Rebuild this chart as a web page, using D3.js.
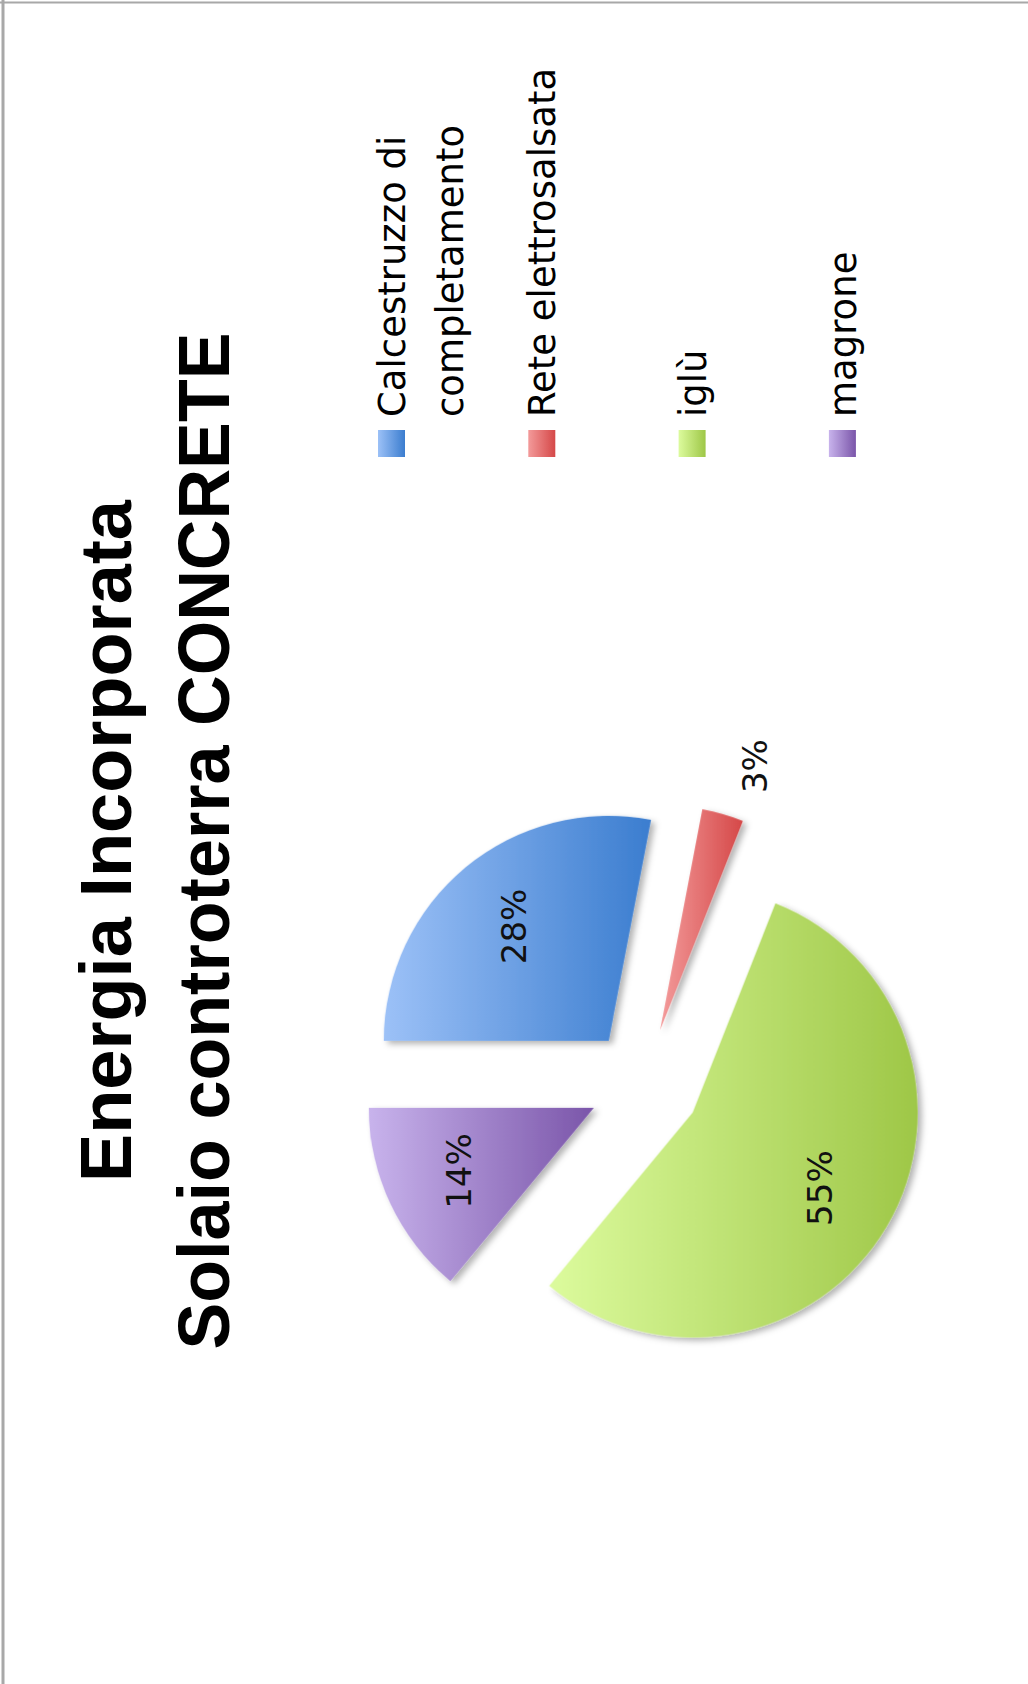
<!DOCTYPE html>
<html>
<head>
<meta charset="utf-8">
<script src="https://cdn.jsdelivr.net/npm/d3@7"></script>
<style>
  html, body { margin: 0; padding: 0; background: #ffffff; }
  svg { display: block; }
</style>
</head>
<body>
<div id="chart"></div>
<script>
// ---- data ----
const titleLines = ["Energia Incorporata", "Solaio controterra CONCRETE"];
const categories = ["Calcestruzzo di completamento", "Rete elettrosalsata", "iglù", "magrone"];
const legendLines = [["Calcestruzzo di", "completamento"], ["Rete elettrosalsata"], ["iglù"], ["magrone"]];
const values = [28, 3, 55, 14];
const colorsLight = ["#9cc1f7", "#f39a9a", "#dcfb9d", "#c8b3ec"];
const colorsDark  = ["#3b7dcf", "#d54848", "#9ec747", "#7a55a9"];

// ---- layout (chart is drawn landscape, then rotated -90deg onto the portrait page) ----
const PW = 1028, PH = 1684;      // page
const W = PH, H = PW;            // unrotated chart frame
const radius = 225, explode = 56;
const cx = 600, cy = 644.5;

const svg = d3.select("#chart").append("svg")
  .attr("width", PW).attr("height", PH);

const defs = svg.append("defs");
categories.forEach((c, i) => {
  const g = defs.append("linearGradient").attr("id", "grad" + i)
    .attr("x1", 0).attr("y1", 0).attr("x2", 0).attr("y2", 1);
  g.append("stop").attr("offset", "0%").attr("stop-color", colorsLight[i]);
  g.append("stop").attr("offset", "100%").attr("stop-color", colorsDark[i]);
});
const f = defs.append("filter").attr("id", "shadow")
  .attr("x", "-20%").attr("y", "-20%").attr("width", "140%").attr("height", "140%");
f.append("feDropShadow").attr("dx", -3).attr("dy", 4).attr("stdDeviation", 3)
  .attr("flood-color", "#000").attr("flood-opacity", 0.3);

// page border (left & top edges)
svg.append("line").attr("x1", 3).attr("y1", 0).attr("x2", 3).attr("y2", PH)
  .attr("stroke", "#a8a8a8").attr("stroke-width", 3);
svg.append("line").attr("x1", 0).attr("y1", 2.5).attr("x2", PW).attr("y2", 2.5)
  .attr("stroke", "#a8a8a8").attr("stroke-width", 2);

const root = svg.append("g").attr("transform", `translate(0,${PH}) rotate(-90)`);

// ---- title ----
const titleFont = "'Liberation Sans', Arial, sans-serif";
const titleBase = [131, 229];
const titleLen = [682, 1017];
titleLines.forEach((t, i) => {
  root.append("text")
    .attr("x", W / 2 + 1).attr("y", titleBase[i])
    .attr("text-anchor", "middle")
    .attr("font-family", titleFont).attr("font-weight", "bold")
    .attr("font-size", 72)
    .attr("textLength", titleLen[i]).attr("lengthAdjust", "spacingAndGlyphs")
    .attr("fill", "#000")
    .text(t);
});

// ---- pie ----
const pie = d3.pie().sort(null).value(d => d);
const arcs = pie(values);
const total = d3.sum(values);
const arc = d3.arc().innerRadius(0).outerRadius(radius);
const labelArc = d3.arc().innerRadius(radius * 0.66).outerRadius(radius * 0.66);

const pieG = root.append("g").attr("transform", `translate(${cx},${cy})`);
const slices = pieG.selectAll("g.slice").data(arcs).join("g")
  .attr("class", "slice")
  .attr("transform", d => {
    const m = (d.startAngle + d.endAngle) / 2;
    return `translate(${explode * Math.sin(m)},${-explode * Math.cos(m)})`;
  });

slices.append("path")
  .attr("d", arc)
  .attr("fill", (d, i) => `url(#grad${i})`)
  .attr("filter", "url(#shadow)");

const pctFont = "'DejaVu Sans', sans-serif";
slices.each(function (d, i) {
  const g = d3.select(this);
  const share = d.value / total;
  const txt = Math.round(share * 100) + "%";
  if (share >= 0.05) {
    const [lx, ly] = labelArc.centroid(d);
    g.append("text").attr("x", lx).attr("y", ly).attr("dy", "0.35em")
      .attr("text-anchor", "middle")
      .attr("font-family", pctFont).attr("font-size", 34).attr("fill", "#111")
      .text(txt);
  } else {
    const m = (d.startAngle + d.endAngle) / 2;
    const R = radius + 22;
    const lx = R * Math.sin(m), ly = -R * Math.cos(m);
    g.append("text").attr("x", lx).attr("y", ly + 26).attr("dy", "0.35em")
      .attr("text-anchor", Math.sin(m) >= 0 ? "start" : "end")
      .attr("font-family", pctFont).attr("font-size", 34).attr("fill", "#111")
      .text(txt);
  }
});

// ---- legend ----
const legX = 1227, legY0 = 378, legStep = 150.3, sw = 27, lineH = 58;
const legend = root.append("g");
const items = legend.selectAll("g.item").data(categories).join("g")
  .attr("class", "item")
  .attr("transform", (d, i) => `translate(${legX},${legY0 + i * legStep})`);
items.append("rect").attr("width", sw).attr("height", sw)
  .attr("fill", (d, i) => `url(#grad${i})`);
items.each(function (d, i) {
  const t = d3.select(this).append("text")
    .attr("font-family", "'DejaVu Sans', sans-serif").attr("font-size", 37)
    .attr("fill", "#000");
  legendLines[i].forEach((ln, j) => {
    t.append("tspan").attr("x", sw + 13 + (j > 0 ? 0 : 0)).attr("y", sw + j * lineH).text(ln);
  });
});
</script>
</body>
</html>
